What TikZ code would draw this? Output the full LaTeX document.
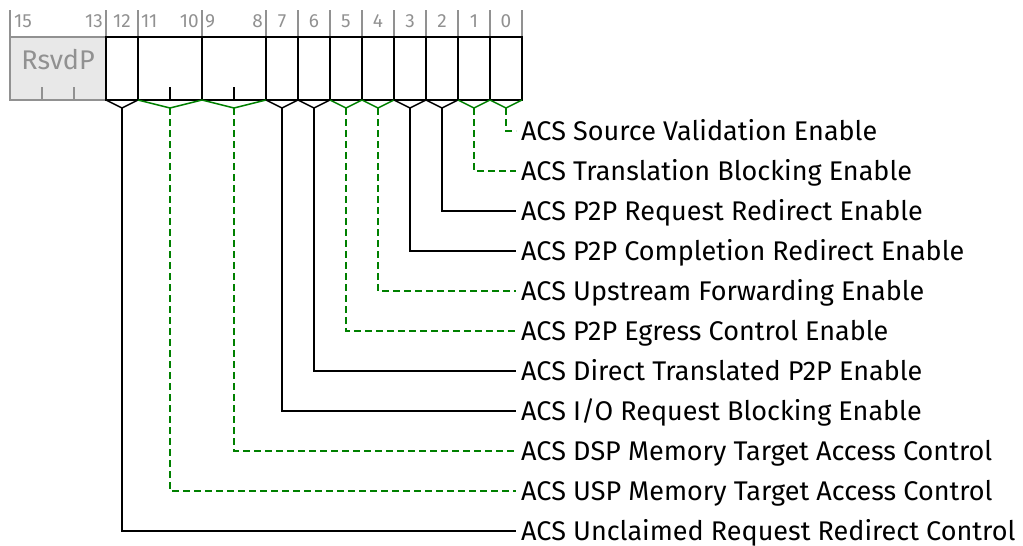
\documentclass[tikz,border=0pt]{standalone}
\usepackage{fontspec}
\setmainfont{Fira Sans}
\definecolor{fgreen}{RGB}{0,128,0}
\definecolor{fgray}{RGB}{145,145,145}
\definecolor{rsvdfill}{RGB}{232,232,232}
\tikzset{
  bitnum/.style={text=fgray, font=\fontsize{19}{19}\selectfont, inner sep=0pt},
  bittick/.style={fgray, line width=1.2pt},
  boxline/.style={black, line width=2.5pt},
  solidconn/.style={black, line width=1.5pt},
  greenconn/.style={fgreen, line width=1.5pt, dash pattern=on 7pt off 4pt},
  bracesolid/.style={black, line width=1.5pt},
  bracegreen/.style={fgreen, line width=1.5pt},
  lab/.style={anchor=west, inner xsep=5pt, inner ysep=0pt, text height=19pt, text depth=0pt, font=\fontsize{27}{27}\selectfont}
}
\begin{document}
\begin{tikzpicture}[x=1pt,y=-1pt]
\useasboundingbox (0,0) rectangle (1023,546);
% top ticks
\foreach \x in {10,106,138,202,266,298,330,362,394,426,458,490,522}
  \draw[bittick] (\x,10) -- (\x,37);
% bit numbers
\node[bitnum, anchor=west] (n15) at (14,21) {15};
\node[bitnum, anchor=east] (n13) at (103,21) {13};
\node[bitnum] (n12) at (122,21) {12};
\node[bitnum, anchor=west] (n11) at (141,21) {11};
\node[bitnum, anchor=east] (n10) at (199,21) {10};
\node[bitnum, anchor=west] (n9) at (205,21) {9};
\node[bitnum, anchor=east] (n8) at (263,21) {8};
\node[bitnum] (n7) at (282,21) {7};
\node[bitnum] (n6) at (314,21) {6};
\node[bitnum] (n5) at (346,21) {5};
\node[bitnum] (n4) at (378,21) {4};
\node[bitnum] (n3) at (410,21) {3};
\node[bitnum] (n2) at (442,21) {2};
\node[bitnum] (n1) at (474,21) {1};
\node[bitnum] (n0) at (506,21) {0};
% RsvdP box
\draw[fgray, line width=2.5pt, fill=rsvdfill] (10,37) rectangle (106,100);
\node[text=fgray, font=\fontsize{27}{27}\selectfont, inner sep=0pt] (rsvd) at (58,60) {RsvdP};
\draw[fgray, line width=1.2pt] (42,87) -- (42,100) (74,87) -- (74,100);
% register box
\draw[boxline] (106,37) rectangle (522,100);
\foreach \x in {138,202,266,298,330,362,394,426,458,490}
  \draw[boxline] (\x,37) -- (\x,100);
\draw[black, line width=1.2pt] (170,87) -- (170,100) (234,87) -- (234,100);
% braces: apex coordinates
\coordinate (b12) at (122,108);
\coordinate (b10) at (170,108);
\coordinate (b8) at (234,108);
\coordinate (b7) at (282,108);
\coordinate (b6) at (314,108);
\coordinate (b5) at (346,108);
\coordinate (b4) at (378,108);
\coordinate (b3) at (410,108);
\coordinate (b2) at (442,108);
\coordinate (b1) at (474,108);
\coordinate (b0) at (506,108);
\draw[bracesolid] (106,100) -- (b12) -- (138,100);
\draw[bracegreen] (138,100) -- (b10) -- (202,100);
\draw[bracegreen] (202,100) -- (b8) -- (266,100);
\draw[bracesolid] (266,100) -- (b7) -- (298,100);
\draw[bracesolid] (298,100) -- (b6) -- (330,100);
\draw[bracegreen] (330,100) -- (b5) -- (362,100);
\draw[bracegreen] (362,100) -- (b4) -- (394,100);
\draw[bracesolid] (394,100) -- (b3) -- (426,100);
\draw[bracesolid] (426,100) -- (b2) -- (458,100);
\draw[bracegreen] (458,100) -- (b1) -- (490,100);
\draw[bracegreen] (490,100) -- (b0) -- (522,100);
% labels
\node[lab] (l0) at (516,131) {ACS Source Validation Enable};
\node[lab] (l1) at (516,171) {ACS Translation Blocking Enable};
\node[lab] (l2) at (516,211) {ACS P2P Request Redirect Enable};
\node[lab] (l3) at (516,251) {ACS P2P Completion Redirect Enable};
\node[lab] (l4) at (516,291) {ACS Upstream Forwarding Enable};
\node[lab] (l5) at (516,331) {ACS P2P Egress Control Enable};
\node[lab] (l6) at (516,371) {ACS Direct Translated P2P Enable};
\node[lab] (l7) at (516,411) {ACS I/O Request Blocking Enable};
\node[lab] (l8) at (516,451) {ACS DSP Memory Target Access Control};
\node[lab] (l10) at (516,491) {ACS USP Memory Target Access Control};
\node[lab] (l12) at (516,531) {ACS Unclaimed Request Redirect Control};
% connectors
\draw[greenconn] (b0) |- (l0.west);
\draw[greenconn] (b1) |- (l1.west);
\draw[solidconn] (b2) |- (l2.west);
\draw[solidconn] (b3) |- (l3.west);
\draw[greenconn] (b4) |- (l4.west);
\draw[greenconn] (b5) |- (l5.west);
\draw[solidconn] (b6) |- (l6.west);
\draw[solidconn] (b7) |- (l7.west);
\draw[greenconn] (b8) |- (l8.west);
\draw[greenconn] (b10) |- (l10.west);
\draw[solidconn] (b12) |- (l12.west);
\end{tikzpicture}
\end{document}
